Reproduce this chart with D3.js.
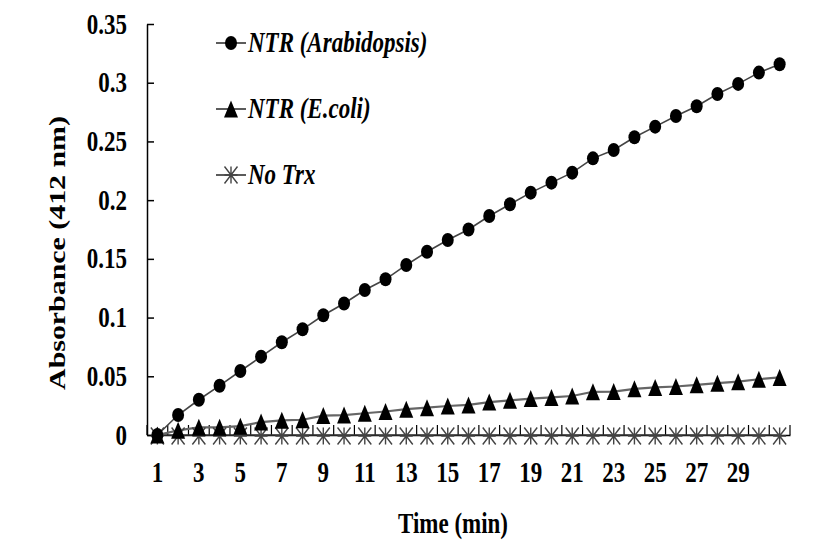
<!DOCTYPE html>
<html>
<head>
<meta charset="utf-8">
<script src="https://cdn.jsdelivr.net/npm/d3@7"></script>
<style>
  html, body { margin: 0; padding: 0; background: #fff; }
  svg { display: block; }
  text { font-family: "Liberation Serif", "Times New Roman", serif; font-weight: bold; fill: #000; }
</style>
</head>
<body>
<svg id="chart" width="836" height="550"></svg>
<script>
// ---- data ----
const categories = d3.range(1, 32); // minutes 1..31
const arabidopsis = [0, 0.017, 0.030, 0.042, 0.0545, 0.0667, 0.079, 0.090, 0.102, 0.112,
  0.1235, 0.1326, 0.1448, 0.156, 0.166, 0.175, 0.1865, 0.1965, 0.2064, 0.2149,
  0.2234, 0.2356, 0.2427, 0.2535, 0.2626, 0.2716, 0.280, 0.2904, 0.299, 0.3086, 0.3157];
const ecoli = [0, 0.004, 0.0065, 0.0065, 0.0075, 0.011, 0.0125, 0.013, 0.0165, 0.017,
  0.0185, 0.020, 0.022, 0.0233, 0.0247, 0.0256, 0.028, 0.0295, 0.031, 0.032,
  0.0332, 0.0368, 0.037, 0.0393, 0.0405, 0.0413, 0.0427, 0.0441, 0.0454, 0.0475, 0.049];
const noTrx = [0, 0, 0, 0, 0, 0, 0, 0, 0, 0, 0, 0, 0, 0, 0, 0, 0, 0, 0, 0,
  0, 0, 0, 0, 0, 0, 0, 0, 0, 0, 0];
const xTickLabels = [1, 3, 5, 7, 9, 11, 13, 15, 17, 19, 21, 23, 25, 27, 29];
const yTicks = [0, 0.05, 0.1, 0.15, 0.2, 0.25, 0.3, 0.35];
const seriesNames = ["NTR (Arabidopsis)", "NTR (E.coli)", "No Trx"];
const xTitle = "Time (min)";
const yTitle = "Absorbance (412 nm)";

// ---- layout ----
const svg = d3.select("#chart");
const plotLeft = 147, plotRight = 790, plotTop = 24, plotBottom = 435;
const SY = 1.3; // vertical text stretch
const FS = 23;

const x = d3.scaleBand().domain(categories).range([plotLeft, plotRight]).padding(0);
const y = d3.scaleLinear().domain([0, 0.35]).range([plotBottom, plotTop]);
const cx = c => x(c) + x.bandwidth() / 2;

// y axis
const yAxis = svg.append("g").attr("transform", `translate(${plotLeft},0)`)
  .call(d3.axisLeft(y).tickValues(yTicks).tickSizeInner(-7).tickSizeOuter(0)
    .tickPadding(20).tickFormat(d => String(+d.toFixed(2))));
yAxis.select(".domain").attr("stroke", "#000").attr("stroke-width", 1.5);
yAxis.selectAll(".tick line").attr("stroke", "#000").attr("stroke-width", 1.5);
yAxis.selectAll(".tick text")
  .attr("x", 0).attr("dy", null).attr("y", 0)
  .attr("text-anchor", "end")
  .attr("transform", `translate(-20,9) scale(1,${SY})`)
  .style("font-size", FS + "px")
  .style("font-family", "'Liberation Serif', serif").style("font-weight", "bold");

// x axis
const xAxis = svg.append("g").attr("transform", `translate(0,${plotBottom})`)
  .call(d3.axisBottom(x).tickSize(0).tickSizeOuter(0)
    .tickFormat(d => xTickLabels.includes(d) ? String(d) : ""));
xAxis.select(".domain").attr("stroke", "#000").attr("stroke-width", 1.5);
xAxis.selectAll(".tick text")
  .attr("y", 0).attr("dy", null)
  .attr("transform", `translate(0,47) scale(1,${SY})`)
  .style("font-size", FS + "px")
  .style("font-family", "'Liberation Serif', serif").style("font-weight", "bold");
// tick marks between categories (pointing up, inside)
const boundaries = categories.map(c => x(c)).concat([plotRight]);
svg.append("g").selectAll("line").data(boundaries).join("line")
  .attr("x1", d => d).attr("x2", d => d)
  .attr("y1", plotBottom).attr("y2", plotBottom - 10)
  .attr("stroke", "#000").attr("stroke-width", 1.2);

// axis titles
svg.append("text")
  .attr("text-anchor", "middle")
  .attr("transform", `translate(453,533) scale(1,${SY})`)
  .style("font-size", FS + "px")
  .text(xTitle);
svg.append("text")
  .attr("text-anchor", "middle")
  .attr("transform", `translate(65,253) scale(1,${SY}) rotate(-90)`)
  .style("font-size", FS + "px")
  .text(yTitle);

// ---- markers ----
function drawCircle(g, px, py) {
  g.append("ellipse").attr("cx", px).attr("cy", py).attr("rx", 6).attr("ry", 7)
    .attr("fill", "#000");
}
function drawTriangle(g, px, py) {
  const w = 14, h = 17;
  g.append("path")
    .attr("d", `M${px},${py - h / 2}L${px + w / 2},${py + h / 2}L${px - w / 2},${py + h / 2}Z`)
    .attr("fill", "#000");
}
function drawStar(g, px, py) {
  const w = 6.5, h = 8.5;
  g.append("path")
    .attr("d", `M${px - w},${py - h}L${px + w},${py + h}M${px + w},${py - h}L${px - w},${py + h}M${px},${py - h}L${px},${py + h}M${px - w},${py}L${px + w},${py}`)
    .attr("stroke", "#444").attr("stroke-width", 1.4).attr("fill", "none");
}

const line = d3.line().x((d, i) => cx(categories[i])).y(d => y(d));

const plot = svg.append("g");
plot.append("path").datum(noTrx).attr("d", line)
  .attr("fill", "none").attr("stroke", "#333").attr("stroke-width", 1.5);
plot.append("path").datum(ecoli).attr("d", line)
  .attr("fill", "none").attr("stroke", "#666").attr("stroke-width", 2.2);
plot.append("path").datum(arabidopsis).attr("d", line)
  .attr("fill", "none").attr("stroke", "#444").attr("stroke-width", 1.6);

const mStar = plot.append("g");
noTrx.forEach((v, i) => drawStar(mStar, cx(categories[i]), y(v) + 1));
const mTri = plot.append("g");
ecoli.forEach((v, i) => drawTriangle(mTri, cx(categories[i]), y(v)));
const mCirc = plot.append("g");
arabidopsis.forEach((v, i) => drawCircle(mCirc, cx(categories[i]), y(v)));

// ---- legend ----
const legend = svg.append("g");
const legendY = [43, 109, 175];
const markerFns = [drawCircle, drawTriangle, drawStar];
seriesNames.forEach((name, i) => {
  const ly = legendY[i];
  legend.append("line").attr("x1", 216).attr("x2", 246).attr("y1", ly).attr("y2", ly)
    .attr("stroke", "#333").attr("stroke-width", 1.6);
  markerFns[i](legend, 231, ly);
  legend.append("text")
    .attr("transform", `translate(248,${ly + 9}) scale(1,${SY})`)
    .style("font-size", FS + "px").style("font-style", "italic")
    .text(name);
});
</script>
</body>
</html>
